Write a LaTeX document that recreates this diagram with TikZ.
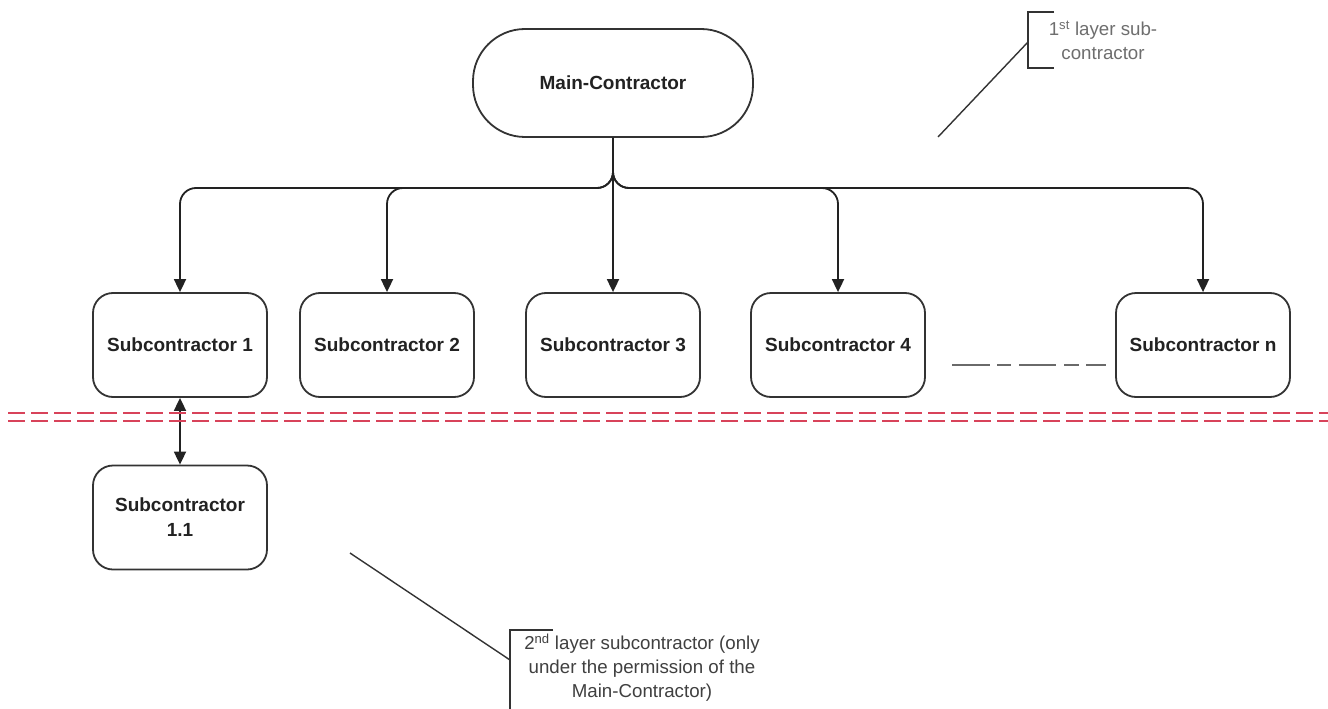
\documentclass[tikz,border=0pt]{standalone}
\usepackage{fontspec}
\setmainfont{Liberation Sans}
\usetikzlibrary{arrows.meta}
\definecolor{ink}{HTML}{222222}
\definecolor{boxline}{HTML}{333333}
\definecolor{noteink}{HTML}{6E6E6E}
\definecolor{noteink2}{HTML}{404040}
\definecolor{sepred}{HTML}{D8435A}
\definecolor{gapgray}{HTML}{6A6A6A}
\tikzset{
  subbox/.style={draw=boxline, line width=1.8pt, rounded corners=20pt,
    minimum width=174pt, minimum height=104pt, inner sep=0pt, align=center,
    text=ink, font=\fontsize{19}{25}\selectfont\bfseries},
  mainbox/.style={subbox, rounded corners=52pt, minimum width=280pt, minimum height=108pt},
  conn/.style={draw=ink, line width=1.8pt, rounded corners=16pt,
    -{Triangle[length=13pt,width=12pt]}},
  both/.style={draw=ink, line width=1.8pt,
    {Triangle[length=13pt,width=12pt]}-{Triangle[length=13pt,width=12pt]}},
  calloutline/.style={draw=boxline, line width=1.4pt},
  bracket/.style={draw=boxline, line width=2pt},
  note/.style={inner sep=0pt, align=center, font=\fontsize{18.7}{24}\selectfont},
  sepline/.style={draw=sepred, line width=2.6pt, dash pattern=on 17pt off 6pt},
}
\begin{document}
\begin{tikzpicture}[x=1pt, y=-1pt]
  \useasboundingbox[fill=white] (0,0) rectangle (1328,709);

  % main contractor and first-layer subcontractors
  \node[mainbox] (main) at (613,83) {Main-Contractor};
  \node[subbox] (s1) at (180,345) {Subcontractor 1};
  \node[subbox] (s2) at (387,345) {Subcontractor 2};
  \node[subbox] (s3) at (613,345) {Subcontractor 3};
  \node[subbox] (s4) at (838,345) {Subcontractor 4};
  \node[subbox] (sn) at (1203,345) {Subcontractor n};

  % second-layer subcontractor
  \node[subbox] (s11) at (180,517.5) {Subcontractor\\1.1};

  % distribution from the main contractor
  \coordinate (hub) at (613,188);
  \draw[conn] (main.south) -- (hub) -| (s1.north);
  \draw[conn] (main.south) -- (hub) -| (s2.north);
  \draw[conn] (main.south) -- (s3.north);
  \draw[conn] (main.south) -- (hub) -| (s4.north);
  \draw[conn] (main.south) -- (hub) -| (sn.north);

  % link between layers
  \draw[both] (s1.south) -- (s11.north);

  % gap marker between subcontractor 4 and n
  \coordinate (g1) at (952,365);
  \coordinate (g2) at (1106,365);
  \draw[draw=gapgray, line width=2.8pt,
    dash pattern=on 38pt off 7pt on 14pt off 8pt on 37pt off 8pt on 15pt off 7pt on 21pt off 10pt]
    (g1) -- (g2);

  % layer separator
  \coordinate (r1a) at (8,413);  \coordinate (r1b) at (1328,413);
  \coordinate (r2a) at (8,421);  \coordinate (r2b) at (1328,421);
  \draw[sepline] (r1a) -- (r1b);
  \draw[sepline] (r2a) -- (r2b);

  % callout: first layer
  \draw[bracket] (1054,12) -- (1028,12) -- (1028,68) -- (1054,68);
  \coordinate (b1) at (1028,42);
  \coordinate (p1) at (938,137);
  \draw[calloutline] (p1) -- (b1);
  \node[note, text=noteink] (c1) at (1103,40) {1\textsuperscript{st} layer sub-\\contractor};

  % callout: second layer
  \draw[bracket] (553,630) -- (510,630) -- (510,715);
  \coordinate (b2) at (510,660);
  \coordinate (p2) at (350,553);
  \draw[calloutline] (p2) -- (b2);
  \node[note, text=noteink2] (c2) at (642,668)
    {2\textsuperscript{nd} layer subcontractor (only\\under the permission of the\\Main-Contractor)};
\end{tikzpicture}
\end{document}
